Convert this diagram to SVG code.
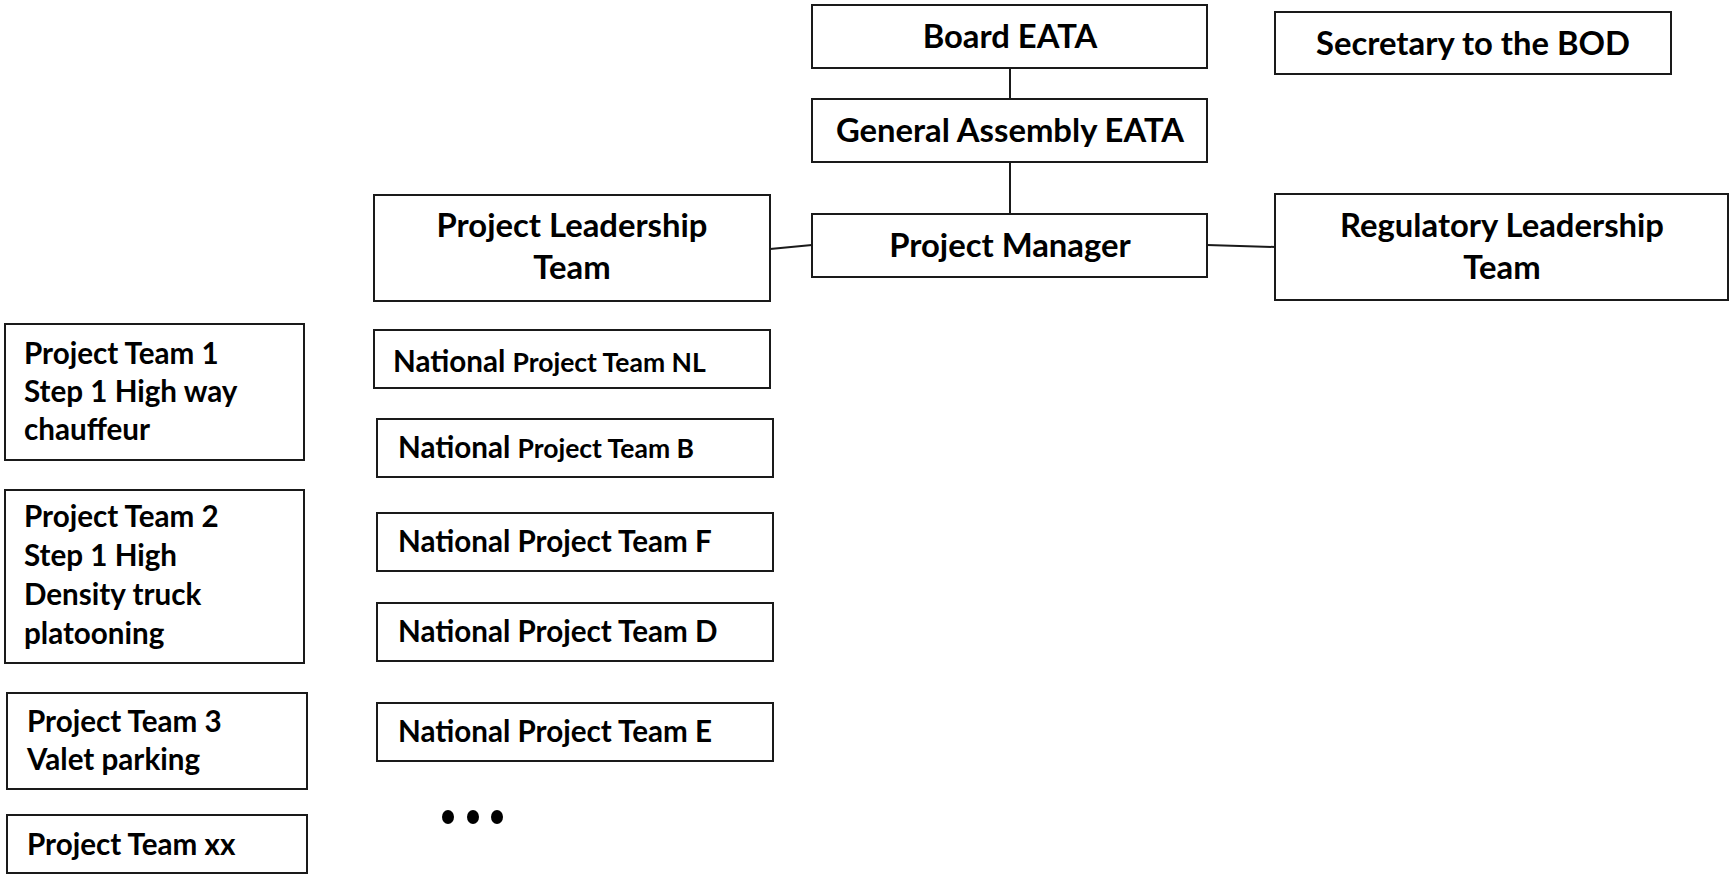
<svg xmlns="http://www.w3.org/2000/svg" width="1729" height="875" viewBox="0 0 1729 875">
  <style>
    .box { fill: #ffffff; stroke: #1a1a1a; stroke-width: 2; }
    .wire { fill: none; stroke: #1a1a1a; stroke-width: 2; }
    text { font-family: Lato, "Open Sans", "Liberation Sans", sans-serif; font-weight: bold; fill: #000000; }
    .big { font-size: 32.8px; }
    .mid { font-size: 29.6px; }
    .sml { font-size: 26.5px; }
    .c { text-anchor: middle; }
  </style>
  <rect width="1729" height="875" fill="#ffffff"/>

  <!-- connectors -->
  <g id="connectors">
    <line class="wire" x1="1010" y1="68" x2="1010" y2="99"/>
    <line class="wire" x1="1010" y1="162" x2="1010" y2="214"/>
    <line class="wire" x1="770" y1="249" x2="812" y2="245"/>
    <line class="wire" x1="1207" y1="245" x2="1275" y2="247"/>
  </g>

  <!-- governance -->
  <g id="board">
    <rect class="box" x="812" y="5" width="395" height="63"/>
    <text class="big c" x="1010" y="48">Board EATA</text>
  </g>
  <g id="secretary">
    <rect class="box" x="1275" y="12" width="396" height="62"/>
    <text class="big c" x="1473" y="55">Secretary to the BOD</text>
  </g>
  <g id="general-assembly">
    <rect class="box" x="812" y="99" width="395" height="63"/>
    <text class="big c" x="1010" y="142">General Assembly EATA</text>
  </g>
  <g id="project-manager">
    <rect class="box" x="812" y="214" width="395" height="63"/>
    <text class="big c" x="1010" y="257">Project Manager</text>
  </g>
  <g id="project-leadership">
    <rect class="box" x="374" y="195" width="396" height="106"/>
    <text class="big c" x="572" y="237">Project Leadership</text>
    <text class="big c" x="572" y="279">Team</text>
  </g>
  <g id="regulatory-leadership">
    <rect class="box" x="1275" y="194" width="453" height="106"/>
    <text class="big c" x="1502" y="237">Regulatory Leadership</text>
    <text class="big c" x="1502" y="279">Team</text>
  </g>

  <!-- national teams -->
  <g id="national-nl">
    <rect class="box" x="374" y="330" width="396" height="58"/>
    <text x="393" y="372"><tspan class="mid">National </tspan><tspan class="sml">Project Team NL</tspan></text>
  </g>
  <g id="national-b">
    <rect class="box" x="377" y="419" width="396" height="58"/>
    <text x="398" y="458"><tspan class="mid">National </tspan><tspan class="sml">Project Team B</tspan></text>
  </g>
  <g id="national-f">
    <rect class="box" x="377" y="513" width="396" height="58"/>
    <text class="mid" x="398" y="552">National Project Team F</text>
  </g>
  <g id="national-d">
    <rect class="box" x="377" y="603" width="396" height="58"/>
    <text class="mid" x="398" y="642">National Project Team D</text>
  </g>
  <g id="national-e">
    <rect class="box" x="377" y="703" width="396" height="58"/>
    <text class="mid" x="398" y="742">National Project Team E</text>
  </g>
  <g id="national-more">
    <ellipse cx="448" cy="817" rx="6" ry="7" fill="#000000"/>
    <ellipse cx="473" cy="817" rx="6" ry="7" fill="#000000"/>
    <ellipse cx="497" cy="817" rx="6" ry="7" fill="#000000"/>
  </g>

  <!-- project teams -->
  <g id="project-team-1">
    <rect class="box" x="5" y="324" width="299" height="136"/>
    <text class="mid" x="24" y="364">Project Team 1</text>
    <text class="mid" x="24" y="402">Step 1 High way</text>
    <text class="mid" x="24" y="440">chauffeur</text>
  </g>
  <g id="project-team-2">
    <rect class="box" x="5" y="490" width="299" height="173"/>
    <text class="mid" x="24" y="527">Project Team 2</text>
    <text class="mid" x="24" y="566">Step 1 High</text>
    <text class="mid" x="24" y="605">Density truck</text>
    <text class="mid" x="24" y="644">platooning</text>
  </g>
  <g id="project-team-3">
    <rect class="box" x="7" y="693" width="300" height="96"/>
    <text class="mid" x="27" y="732">Project Team 3</text>
    <text class="mid" x="27" y="770">Valet parking</text>
  </g>
  <g id="project-team-xx">
    <rect class="box" x="7" y="815" width="300" height="58"/>
    <text class="mid" x="27" y="855">Project Team xx</text>
  </g>
</svg>
